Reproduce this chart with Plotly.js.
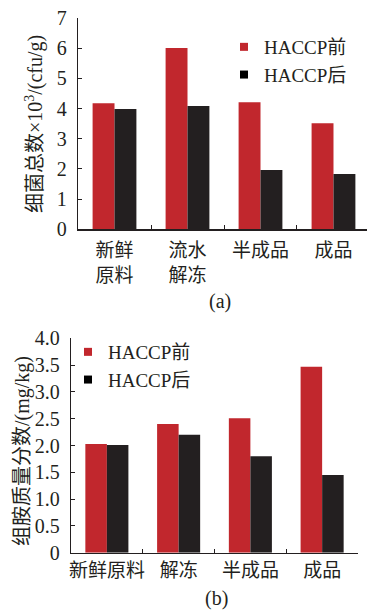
<!DOCTYPE html>
<html>
<head>
<meta charset="utf-8">
<script src="https://cdn.plot.ly/plotly-3.0.1.min.js"></script>
<style>
  html, body { margin: 0; padding: 0; background: #fff; }
  #chart { width: 367px; height: 611px; }
</style>
</head>
<body>
<div id="chart"></div>
<script>
// (a) total bacterial count, ×10^3 cfu/g
const stagesA = ['新鲜<br>原料', '流水<br>解冻', '半成品', '成品'];
const bacteriaBefore = [4.17, 6.0, 4.21, 3.51];
const bacteriaAfter = [3.98, 4.08, 1.96, 1.83];

// (b) histamine content, mg/kg
const stagesB = ['新鲜原料', '解冻', '半成品', '成品'];
const histamineBefore = [2.03, 2.40, 2.51, 3.47];
const histamineAfter = [2.01, 2.20, 1.80, 1.45];

const seriesNames = ['HACCP前', 'HACCP后'];
const histTickVals = [0, 0.5, 1, 1.5, 2, 2.5, 3, 3.5, 4];
const histTickText = ['0', '0.5', '1.0', '1.5', '2.0', '2.5', '3.0', '3.5', '4.0'];

const RED = '#C1272D';
const DARK = '#231F20';
const FONT = '"Liberation Serif", "Times New Roman", "Noto Sans CJK SC", serif';
const W = 367, H = 611;

// pixel helpers for domains / annotation placement
const px = v => v / W;
const py = v => 1 - v / H;

const traces = [
  { type: 'bar', x: stagesA, y: bacteriaBefore, name: seriesNames[0], marker: { color: RED },
    xaxis: 'x', yaxis: 'y', showlegend: false, hoverinfo: 'x+y' },
  { type: 'bar', x: stagesA, y: bacteriaAfter, name: seriesNames[1], marker: { color: DARK },
    xaxis: 'x', yaxis: 'y', showlegend: false, hoverinfo: 'x+y' },
  { type: 'bar', x: stagesB, y: histamineBefore, name: seriesNames[0], marker: { color: RED },
    xaxis: 'x2', yaxis: 'y2', showlegend: false, hoverinfo: 'x+y' },
  { type: 'bar', x: stagesB, y: histamineAfter, name: seriesNames[1], marker: { color: DARK },
    xaxis: 'x2', yaxis: 'y2', showlegend: false, hoverinfo: 'x+y' },
  // legend keys (small square swatches)
  { type: 'scatter', mode: 'markers', x: [null], y: [null], name: seriesNames[0], xaxis: 'x', yaxis: 'y',
    marker: { symbol: 'square', size: 8, color: RED }, legend: 'legend' },
  { type: 'scatter', mode: 'markers', x: [null], y: [null], name: seriesNames[1], xaxis: 'x', yaxis: 'y',
    marker: { symbol: 'square', size: 8, color: '#000' }, legend: 'legend' },
  { type: 'scatter', mode: 'markers', x: [null], y: [null], name: seriesNames[0], xaxis: 'x2', yaxis: 'y2',
    marker: { symbol: 'square', size: 8, color: RED }, legend: 'legend2' },
  { type: 'scatter', mode: 'markers', x: [null], y: [null], name: seriesNames[1], xaxis: 'x2', yaxis: 'y2',
    marker: { symbol: 'square', size: 8, color: '#000' }, legend: 'legend2' }
];

const axisCommon = {
  showline: true, linecolor: DARK, linewidth: 1.2,
  ticks: 'inside', ticklen: 4, tickwidth: 1, tickcolor: DARK,
  showgrid: false, zeroline: false, fixedrange: true
};

const legendCommon = {
  font: { family: FONT, size: 19, color: '#231F20' },
  bgcolor: 'rgba(0,0,0,0)', borderwidth: 0,
  xanchor: 'left', yanchor: 'top', tracegroupgap: 0, itemclick: false
};

const layout = {
  width: W, height: H,
  margin: { l: 0, r: 0, t: 0, b: 0 },
  paper_bgcolor: '#fff', plot_bgcolor: 'rgba(0,0,0,0)',
  font: { family: FONT, color: '#231F20' },
  barmode: 'group', bargap: 0.4, bargroupgap: 0,
  xaxis: Object.assign({}, axisCommon, {
    anchor: 'y', domain: [px(78), 1], range: [-0.5, 3.459],
    type: 'category', tickson: 'boundaries', tickangle: 0,
    ticklabelstandoff: 4,
    tickfont: { family: FONT, size: 19, color: '#231F20' }
  }),
  yaxis: Object.assign({}, axisCommon, {
    anchor: 'x', domain: [py(229.3), py(17.9)], range: [0, 7], dtick: 1,
    ticklabelstandoff: 6,
    tickfont: { family: FONT, size: 20, color: '#231F20' }
  }),
  xaxis2: Object.assign({}, axisCommon, {
    anchor: 'y2', domain: [px(71), px(358)], range: [-0.5, 3.5],
    type: 'category', tickson: 'boundaries', tickangle: 0,
    ticklabelstandoff: 0,
    tickfont: { family: FONT, size: 19, color: '#231F20' }
  }),
  yaxis2: Object.assign({}, axisCommon, {
    anchor: 'x2', domain: [py(552.7), py(338.3)], range: [0, 4],
    tickvals: histTickVals, ticktext: histTickText,
    ticklabelstandoff: 6,
    tickfont: { family: FONT, size: 20, color: '#231F20' }
  }),
  legend: Object.assign({}, legendCommon, { x: px(224), y: py(28) }),
  legend2: Object.assign({}, legendCommon, { x: px(68), y: py(333) }),
  annotations: [
    { text: '细菌总数×10<sup>3</sup>/(cfu/g)', textangle: -90, xref: 'paper', yref: 'paper',
      x: px(34), y: py(124), xanchor: 'center', yanchor: 'middle', showarrow: false,
      font: { family: FONT, size: 20, color: '#231F20' } },
    { text: '组胺质量分数/(mg/kg)', textangle: -90, xref: 'paper', yref: 'paper',
      x: px(22), y: py(451), xanchor: 'center', yanchor: 'middle', showarrow: false,
      font: { family: FONT, size: 20, color: '#231F20' } },
    { text: '(a)', xref: 'paper', yref: 'paper', x: px(220), y: py(302),
      xanchor: 'center', yanchor: 'middle', showarrow: false,
      font: { family: FONT, size: 20, color: '#231F20' } },
    { text: '(b)', xref: 'paper', yref: 'paper', x: px(217), y: py(598),
      xanchor: 'center', yanchor: 'middle', showarrow: false,
      font: { family: FONT, size: 20, color: '#231F20' } }
  ]
};

Plotly.newPlot('chart', traces, layout, { displayModeBar: false, staticPlot: true });
</script>
</body>
</html>
